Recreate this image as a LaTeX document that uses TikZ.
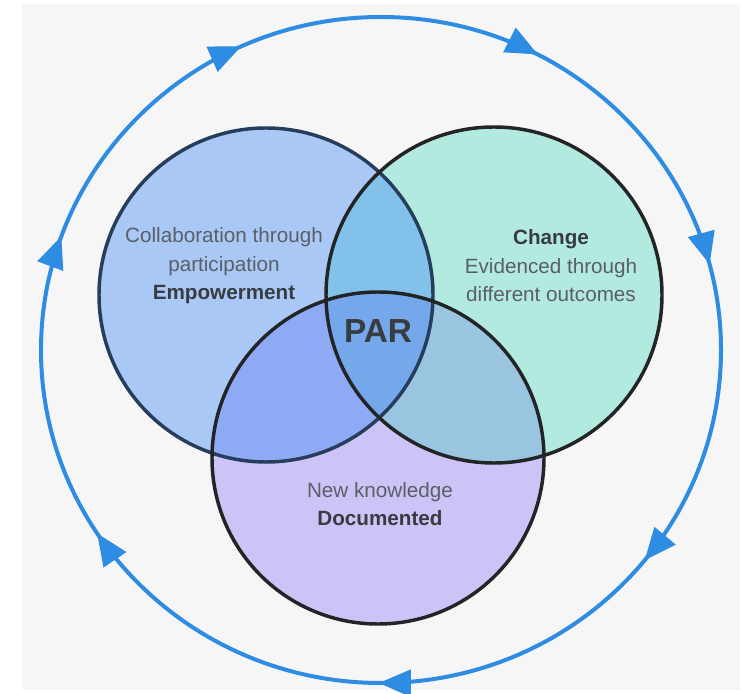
\documentclass[tikz,border=0pt]{standalone}
\usepackage{fontspec}
\setmainfont{Liberation Sans}
\usetikzlibrary{arrows.meta,decorations.markings}

\definecolor{bgcol}{HTML}{F6F6F6}
\definecolor{ringcol}{HTML}{2E8DE3}
\definecolor{lcol}{HTML}{A9C8F6}
\definecolor{rcol}{HTML}{B2EAE0}
\definecolor{bcol}{HTML}{CCC4F6}
\definecolor{lrcol}{HTML}{82C1E9}
\definecolor{lbcol}{HTML}{8EAAF4}
\definecolor{rbcol}{HTML}{99C5E0}
\definecolor{lrbcol}{HTML}{74A8EA}
\definecolor{txtcol}{HTML}{5A5F66}
\definecolor{boldcol}{HTML}{383B40}
\definecolor{lline}{HTML}{263E5C}
\definecolor{dline}{HTML}{222426}

\tikzset{
  ring/.style={draw=ringcol, line width=3pt},
  venn/.style={line width=2.6pt},
  txt/.style={align=center, text=txtcol, font=\fontsize{15.5}{21.4}\selectfont},
  ringtip/.tip={Triangle[length=24pt,width=20pt]},
}

\begin{document}
\begin{tikzpicture}[x=0.75pt,y=0.75pt]
        \useasboundingbox (0,0) rectangle (742,693);
        \fill[bgcol] (22,3) rectangle (740,689);
        \coordinate (cl) at (266,398);
        \coordinate (cr) at (494,398);
        \coordinate (cb) at (378,235);
        \coordinate (cring) at (381,343);
        % outer cycle
        \draw[ring, postaction={decorate, decoration={markings,
            mark=at position 0.108 with {\arrow{ringtip}},
            mark=at position 0.251 with {\arrow{ringtip}},
            mark=at position 0.408 with {\arrow{ringtip}},
            mark=at position 0.555 with {\arrow{ringtip}},
            mark=at position 0.682 with {\arrow{ringtip}},
            mark=at position 0.827 with {\arrow{ringtip}},
            mark=at position 0.959 with {\arrow{ringtip}}}}]
            (cring) ++(340,0) arc[start angle=0, end angle=-360, x radius=340, y radius=333];
        % circles
        \fill[lcol] (cl) circle[radius=167];
        \fill[rcol] (cr) circle[radius=168];
        \fill[bcol] (cb) circle[radius=166];
        \begin{scope}
            \clip (cr) circle[radius=168];
            \fill[rbcol] (cb) circle[radius=166];
        \end{scope}
        \begin{scope}
            \clip (cl) circle[radius=167];
            \fill[lrcol] (cr) circle[radius=168];
            \fill[lbcol] (cb) circle[radius=166];
            \clip (cr) circle[radius=168];
            \fill[lrbcol] (cb) circle[radius=166];
        \end{scope}
        \draw[venn, lline] (cl) circle[radius=167];
        \draw[venn, dline] (cr) circle[radius=168];
        \draw[venn, dline] (cb) circle[radius=166];
        % labels
        \node[txt] (collab) at (224,427) {Collaboration through\\participation\\\textcolor{boldcol}{\textbf{Empowerment}}};
        \node[txt] (change) at (551,427) {\textcolor{boldcol}{\textbf{Change}}\\Evidenced through\\different outcomes};
        \node[txt] (know) at (380,189) {New knowledge\\\textcolor{boldcol}{\textbf{Documented}}};
        \node[text=boldcol, font=\fontsize{25}{29}\selectfont\bfseries] (par) at (378,362) {PAR};
\end{tikzpicture}
\end{document}
